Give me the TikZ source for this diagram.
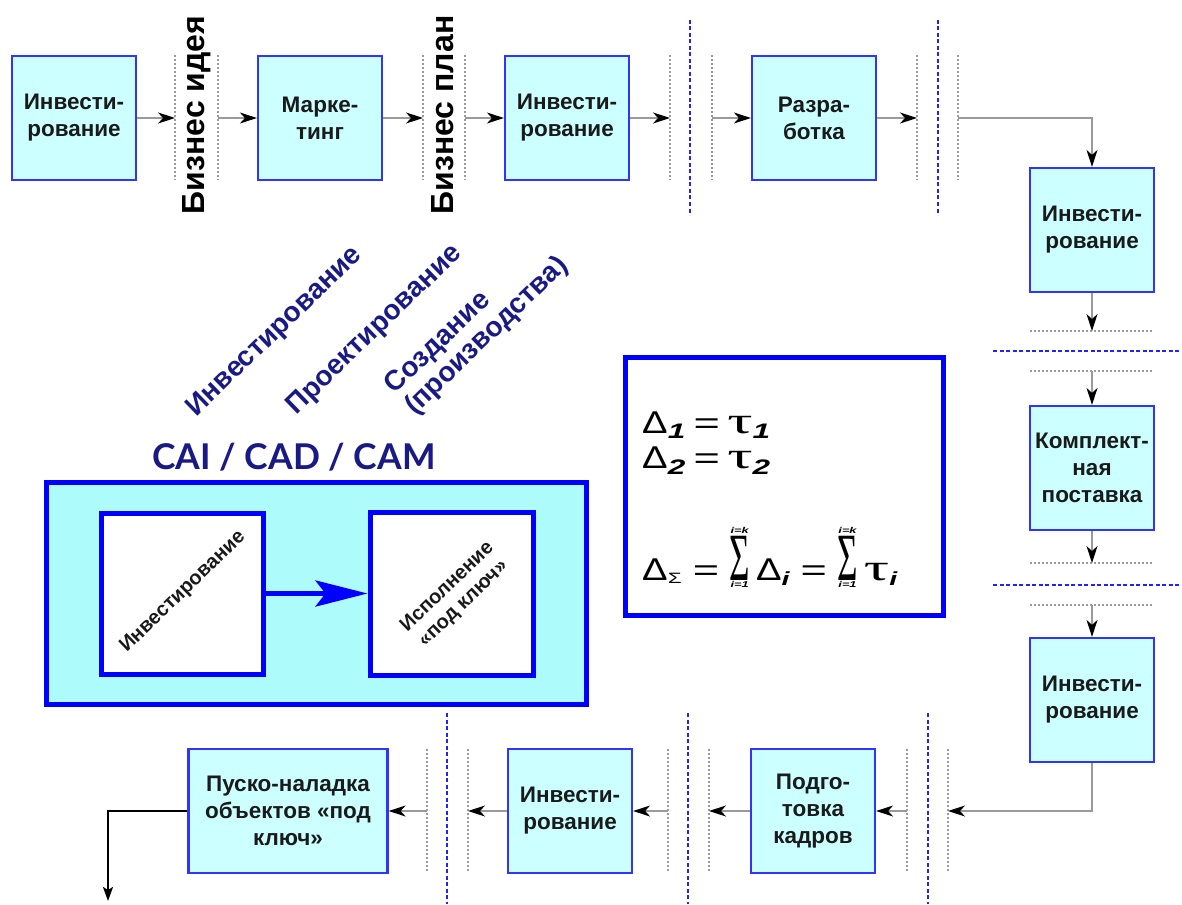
\documentclass[tikz,border=0pt]{standalone}
\usepackage{graphicx}
\usepackage{fontspec}
\setmainfont{Liberation Sans}
\newfontfamily\grk{Liberation Serif}
\newfontfamily\capfont{Lato}
\usetikzlibrary{arrows.meta}

\definecolor{boxfill}{HTML}{CCFFFF}
\definecolor{boxline}{HTML}{3333FF}
\definecolor{outerfill}{HTML}{AEFBFB}
\definecolor{navyink}{HTML}{1A1A85}
\definecolor{sepgrey}{HTML}{9A9A9A}
\definecolor{sepblue}{HTML}{2222FF}
\definecolor{ink}{HTML}{1A1A1A}

% formula helpers
\newcommand{\lowidx}[1]{\textsubscript{\bfseries\itshape #1}}
\newcommand{\limtxt}[1]{\mbox{\fontsize{8.5}{8.5}\selectfont\bfseries\itshape #1}}
\newcommand{\bigsum}{\mathop{\mbox{\grk\fontsize{26}{26}\selectfont\scalebox{0.9}[2.6]{Σ}}}\limits}
\newcommand{\fsym}{\fontsize{30}{30}\selectfont}
\newcommand{\wtau}{\scalebox{1.4}[1.25]{\grk τ}}
\newcommand{\ndelta}{\scalebox{0.85}[1.05]{Δ}}
\newcommand{\mathidx}[1]{\mbox{\fontsize{19}{19}\selectfont\bfseries\itshape #1}}

\begin{document}
\begin{tikzpicture}[x=1pt, y=-1pt,
  stage/.style={draw=boxline, line width=2.2pt, fill=boxfill, text=ink,
    minimum width=124pt, minimum height=124pt, inner sep=0pt, align=center,
    font=\fontsize{22.5}{27}\selectfont\bfseries},
  flow/.style={draw=sepgrey, line width=1.3pt,
    -{Stealth[color=black, length=17pt, width=11pt, inset=5pt]}},
  exitflow/.style={draw=black, line width=2.4pt,
    -{Stealth[color=black, length=14pt, width=10pt, inset=3pt]}},
  greysep/.style={draw=sepgrey, line width=1.2pt, dash pattern=on 2pt off 2pt},
  bluesep/.style={draw=sepblue, line width=2.6pt, dash pattern=on 4pt off 2.5pt},
  gatelabel/.style={rotate=90, font=\fontsize{32}{32}\selectfont\bfseries, text=black},
  phase/.style={rotate=44, text=navyink, font=\fontsize{28}{29}\selectfont\bfseries},
  frame/.style={draw=blue, line width=5pt},
  bigarrow/.style={draw=blue, line width=5pt,
    -{Stealth[color=blue, length=52pt, width=26pt, inset=10pt]}},
  slanted/.style={rotate=44, text=ink, font=\fontsize{20}{23}\selectfont\bfseries, align=center},
  formula/.style={anchor=base west, inner sep=0pt, text=black}
]
\useasboundingbox (0,0) rectangle (1182,904);
\fill[white] (0,0) rectangle (1182,904);

% ---- separators: top row
\foreach \x in {175,218,423,465,670,712,917,958}
  \draw[greysep] (\x,55) -- (\x,180);
\foreach \x in {690,938}
  \draw[bluesep] (\x,20) -- (\x,215);
% ---- separators: right column
\foreach \y in {331,371,563,605}
  \draw[greysep] (1030,\y) -- (1152,\y);
\foreach \y in {351,585}
  \draw[bluesep] (993,\y) -- (1182,\y);
% ---- separators: bottom row
\foreach \x in {427,468,668,709,907,948}
  \draw[greysep] (\x,749) -- (\x,872);
\foreach \x in {447,688,928}
  \draw[bluesep] (\x,713) -- (\x,904);

% ---- connector ends on the separators
\coordinate (g1) at (175,118);
\coordinate (g2) at (218,118);
\coordinate (g3) at (423,118);
\coordinate (g4) at (465,118);
\coordinate (g5) at (670,118);
\coordinate (g6) at (712,118);
\coordinate (g7) at (917,118);
\coordinate (g8) at (958,118);
\coordinate (h1) at (1092,331);
\coordinate (h2) at (1092,371);
\coordinate (h3) at (1092,563);
\coordinate (h4) at (1092,605);
\coordinate (b1) at (948,811);
\coordinate (b2) at (907,811);
\coordinate (b3) at (709,811);
\coordinate (b4) at (668,811);
\coordinate (b5) at (468,811);
\coordinate (b6) at (427,811);
\coordinate (out) at (108,901);

% ---- stages
\node[stage] (inv1) at (74,118) {Инвести-\\рование};
\node[stage] (mkt) at (320,118) {Марке-\\тинг};
\node[stage] (inv2) at (567,118) {Инвести-\\рование};
\node[stage] (dev) at (814,118) {Разра-\\ботка};
\node[stage] (inv3) at (1092,230) {Инвести-\\рование};
\node[stage] (kompl) at (1092,468) {Комплект-\\ная\\поставка};
\node[stage] (inv4) at (1092,700) {Инвести-\\рование};
\node[stage] (kadr) at (813,811) {Подго-\\товка\\кадров};
\node[stage] (inv5) at (570,811) {Инвести-\\рование};
\node[stage, minimum width=199pt] (pusk) at (288,811) {Пуско-наладка\\объектов «под\\ключ»};

% ---- gate labels
\node[gatelabel] (idea) at (197,115) {Бизнес идея};
\node[gatelabel] (plan) at (443,115) {Бизнес план};

% ---- connectors
\draw[flow] (inv1.east) -- (g1);
\draw[flow] (g2) -- (mkt.west);
\draw[flow] (mkt.east) -- (g3);
\draw[flow] (g4) -- (inv2.west);
\draw[flow] (inv2.east) -- (g5);
\draw[flow] (g6) -- (dev.west);
\draw[flow] (dev.east) -- (g7);
\draw[flow] (g8) -| (inv3.north);
\draw[flow] (inv3.south) -- (h1);
\draw[flow] (h2) -- (kompl.north);
\draw[flow] (kompl.south) -- (h3);
\draw[flow] (h4) -- (inv4.north);
\draw[flow] (inv4.south) |- (b1);
\draw[flow] (b2) -- (kadr.east);
\draw[flow] (kadr.west) -- (b3);
\draw[flow] (b4) -- (inv5.east);
\draw[flow] (inv5.west) -- (b5);
\draw[flow] (b6) -- (pusk.east);
\draw[exitflow] (pusk.west) -| (out);

% ---- phase headings
\node[phase] (ph1) at (275,332) {Инвестирование};
\node[phase] (ph2) at (375,330) {Проектирование};
\node[phase, align=left] (ph3) at (477,326) {Создание\\(производства)};
\node[text=navyink, font=\capfont\bfseries\fontsize{35.5}{36}\selectfont] (cai) at (294,457) {CAI / CAD / CAM};

% ---- CAI / CAD / CAM block
\node[frame, fill=outerfill, minimum width=540pt, minimum height=222pt] (cad) at (316,593) {};
\node[frame, fill=white, minimum width=162pt, minimum height=161pt] (ib1) at (182,593.5) {};
\node[frame, fill=white, minimum width=163pt, minimum height=163pt] (ib2) at (451.5,593.5) {};
\draw[bigarrow] (ib1.east) -- (ib2.west);
\node[slanted] (t1) at (183,592) {Инвестирование};
\node[slanted] (t2) at (455.5,595.5) {Исполнение\\«под ключ»};

% ---- formula panel
\node[frame, fill=white, minimum width=318pt, minimum height=258pt] (fbox) at (784,486) {};
\node[formula] (f1) at (642,433)
  {\scalebox{1.5}[1]{\fsym \ndelta\lowidx{1}\,=\,\wtau\lowidx{1}}};
\node[formula] (f2) at (642,468)
  {\scalebox{1.5}[1]{\fsym \ndelta\lowidx{2}\,=\,\wtau\lowidx{2}}};
\node[formula] (f3) at (642,580)
  {\scalebox{1.5}[1]{\fsym $\mbox{\ndelta}_{\mbox{\fontsize{15}{15}\selectfont Σ}}
   \mathrel{\mbox{=}}
   \bigsum_{\limtxt{i=1}}^{\limtxt{i=k}}\mbox{\ndelta}_{\mathidx{i}}
   \mathrel{\mbox{=}}
   \bigsum_{\limtxt{i=1}}^{\limtxt{i=k}}\mbox{\wtau}_{\mathidx{i}}$}};
\end{tikzpicture}
\end{document}
